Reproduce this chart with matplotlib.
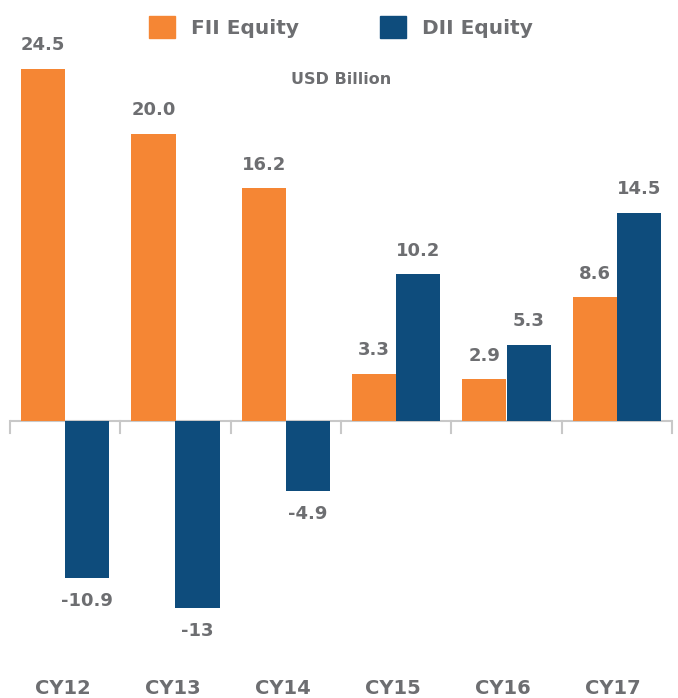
import numpy as np
import matplotlib.pyplot as plt
from matplotlib.patches import Patch

# data (USD billion)
years = ['CY12', 'CY13', 'CY14', 'CY15', 'CY16', 'CY17']
fii = [24.5, 20.0, 16.2, 3.3, 2.9, 8.6]
dii = [-10.9, -13, -4.9, 10.2, 5.3, 14.5]
fii_labels = ['24.5', '20.0', '16.2', '3.3', '2.9', '8.6']
dii_labels = ['-10.9', '-13', '-4.9', '10.2', '5.3', '14.5']

orange = '#F58634'
navy = '#0E4C7C'
grey = '#6D6E71'
axis_grey = '#C8C8C8'

fig = plt.figure(figsize=(6.78, 6.98), dpi=100)
ax = fig.add_axes([10/678, 58/698, 662/678, 580/698])

x = np.arange(len(years))
w = 0.4
ax.bar(x - w/2, fii, w, color=orange)
ax.bar(x + w/2, dii, w, color=navy)

ax.set_xlim(-0.5, len(years) - 0.5)
ax.set_ylim(-15.24, 25.12)

# zero line and little category separators
ax.axhline(0, color=axis_grey, lw=1.5, zorder=0)
for b in np.arange(-0.5, len(years), 1.0):
    ax.plot([b, b], [0, -0.85], color=axis_grey, lw=1.5, clip_on=False, zorder=0)

for s in ax.spines.values():
    s.set_visible(False)
ax.set_yticks([])
ax.set_xticks([])

lbl = dict(ha='center', color=grey, fontweight='bold', fontsize=13)

def put(xpos, v, t):
    if v >= 0:
        ax.annotate(t, (xpos, v), xytext=(0, 17), textcoords='offset points', va='center', **lbl)
    else:
        ax.annotate(t, (xpos, v), xytext=(0, -16.5), textcoords='offset points', va='center', **lbl)

for i in range(len(years)):
    put(x[i] - w/2, fii[i], fii_labels[i])
    put(x[i] + w/2, dii[i], dii_labels[i])

for i, yr in enumerate(years):
    fig.text((10 + 110 * i + 55 - 2) / 678, 1 - 688/698, yr, ha='center', va='center',
             color=grey, fontweight='bold', fontsize=14)

handles = [Patch(color=orange), Patch(color=navy)]
fig.legend(handles, ['FII Equity', 'DII Equity'], loc='center', bbox_to_anchor=(341/678, 1 - 27/698),
           ncol=2, frameon=False, handlelength=1.3, handleheight=1.3, handletextpad=0.8,
           columnspacing=4.0, prop=dict(weight='bold', size=14.5), labelcolor=grey)

fig.text(341/678, 1 - 80/698, 'USD Billion', ha='center', va='center', color=grey,
         fontweight='bold', fontsize=11.5)

fig.savefig('out.png', dpi=100)
